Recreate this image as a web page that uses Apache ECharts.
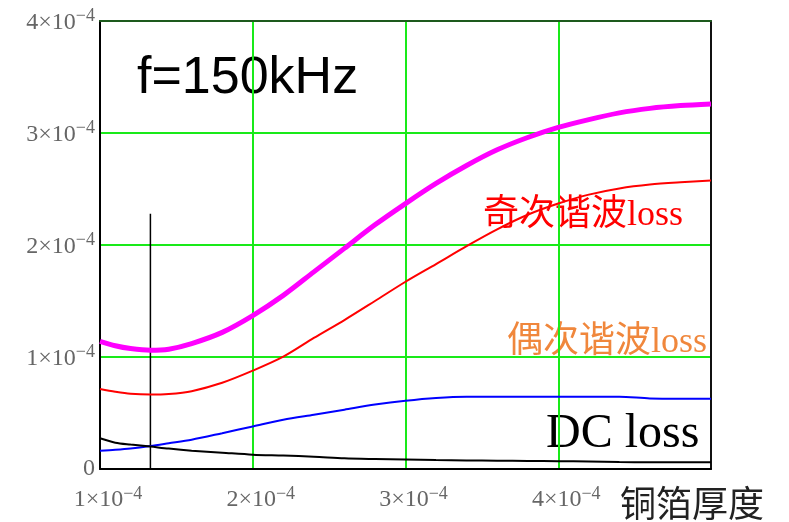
<!DOCTYPE html>
<html>
<head>
<meta charset="utf-8">
<script src="https://cdn.jsdelivr.net/npm/echarts@6/dist/echarts.min.js"></script>
<style>
  html, body { margin: 0; padding: 0; background: #fff; }
  #chart { width: 789px; height: 522px; }
</style>
</head>
<body>
<div id="chart"></div>
<script>
// Copper foil thickness (m)
const thickness = [1.0e-4, 1.1e-4, 1.2e-4, 1.33e-4, 1.45e-4, 1.6e-4, 1.8e-4, 2.0e-4, 2.2e-4, 2.4e-4, 2.6e-4, 2.8e-4,
                   3.0e-4, 3.2e-4, 3.4e-4, 3.6e-4, 3.8e-4, 4.0e-4, 4.2e-4, 4.4e-4, 4.6e-4, 4.8e-4, 5.0e-4];

// Loss components at f = 150 kHz
const totalLoss = [1.14e-4, 1.10e-4, 1.075e-4, 1.06e-4, 1.07e-4, 1.12e-4, 1.22e-4, 1.37e-4, 1.55e-4, 1.76e-4, 1.97e-4, 2.18e-4,
                   2.37e-4, 2.55e-4, 2.71e-4, 2.85e-4, 2.96e-4, 3.05e-4, 3.12e-4, 3.18e-4, 3.22e-4, 3.245e-4, 3.26e-4];
const oddHarmonicLoss = [0.714e-4, 0.69e-4, 0.672e-4, 0.665e-4, 0.67e-4, 0.695e-4, 0.77e-4, 0.878e-4, 1.003e-4, 1.17e-4, 1.33e-4, 1.50e-4,
                         1.672e-4, 1.83e-4, 1.99e-4, 2.14e-4, 2.27e-4, 2.37e-4, 2.45e-4, 2.505e-4, 2.54e-4, 2.56e-4, 2.575e-4];
const evenHarmonicLoss = [0.164e-4, 0.172e-4, 0.183e-4, 0.205e-4, 0.23e-4, 0.262e-4, 0.32e-4, 0.38e-4, 0.44e-4, 0.485e-4, 0.53e-4, 0.575e-4,
                          0.61e-4, 0.635e-4, 0.646e-4, 0.646e-4, 0.646e-4, 0.646e-4, 0.646e-4, 0.646e-4, 0.63e-4, 0.628e-4, 0.628e-4];
const dcLoss = [0.274e-4, 0.235e-4, 0.218e-4, 0.20e-4, 0.182e-4, 0.164e-4, 0.146e-4, 0.128e-4, 0.12e-4, 0.11e-4, 0.095e-4, 0.089e-4,
                0.085e-4, 0.08e-4, 0.076e-4, 0.074e-4, 0.072e-4, 0.07e-4, 0.066e-4, 0.062e-4, 0.06e-4, 0.06e-4, 0.06e-4];

// Cursor marking the optimum thickness
const cursorX = 1.33e-4;
const cursorTop = 2.28e-4;

// Axis ranges and ticks
const xMin = 1e-4, xMax = 5e-4, xStep = 1e-4;
const yMin = 0, yMax = 4e-4, yStep = 1e-4;

const pairs = arr => thickness.map((t, i) => [t, arr[i]]);

const sciLabel = v => {
  const n = Math.round(v * 1e4);
  if (n === 0) return '{z|0}';
  return '{b|' + n + '×10}{s|−4}';
};

const labelRich = {
  b: { fontFamily: 'Liberation Serif', fontSize: 24, color: '#666', lineHeight: 27, verticalAlign: 'bottom' },
  s: { fontFamily: 'Liberation Serif', fontSize: 18, color: '#666', lineHeight: 19, verticalAlign: 'top' },
  z: { fontFamily: 'Liberation Serif', fontSize: 24, color: '#666', lineHeight: 27 }
};

const gridGreen = '#19ea19';

const chart = echarts.init(document.getElementById('chart'), null, { renderer: 'canvas' });

chart.setOption({
  animation: false,
  backgroundColor: '#fff',
  grid: { left: 100, right: 78, top: 21, bottom: 53, containLabel: false },
  xAxis: [{
    type: 'value', min: xMin, max: xMax, interval: xStep,
    axisLine: { show: true, lineStyle: { color: '#000', width: 2 } },
    axisTick: { show: false },
    splitLine: { show: true, lineStyle: { color: gridGreen, width: 2 } },
    axisLabel: {
      margin: 16, showMaxLabel: false,
      padding: [0, 0, 0, 16],
      formatter: v => Math.round(v * 1e4) === 5 ? '' : sciLabel(v),
      rich: labelRich
    }
  }, {
    type: 'value', position: 'top', min: xMin, max: xMax, interval: xStep,
    axisLine: { show: true, onZero: false, lineStyle: { color: '#1d5a1d', width: 2 } },
    axisTick: { show: false }, axisLabel: { show: false }, splitLine: { show: false }
  }],
  yAxis: [{
    type: 'value', min: yMin, max: yMax, interval: yStep,
    axisLine: { show: true, lineStyle: { color: '#000', width: 2 } },
    axisTick: { show: false },
    splitLine: { show: true, lineStyle: { color: gridGreen, width: 2 } },
    axisLabel: { margin: 5, formatter: sciLabel, rich: labelRich }
  }, {
    type: 'value', position: 'right', min: yMin, max: yMax, interval: yStep,
    axisLine: { show: true, onZero: false, lineStyle: { color: '#111', width: 2 } },
    axisTick: { show: false }, axisLabel: { show: false }, splitLine: { show: false }
  }],
  series: [
    { name: '总损耗', type: 'line', data: pairs(totalLoss), showSymbol: false, smooth: 0.3,
      lineStyle: { color: '#ff00ff', width: 5 }, z: 5 },
    { name: '奇次谐波loss', type: 'line', data: pairs(oddHarmonicLoss), showSymbol: false, smooth: 0.3,
      lineStyle: { color: '#ff0000', width: 2 }, z: 4 },
    { name: '偶次谐波loss', type: 'line', data: pairs(evenHarmonicLoss), showSymbol: false, smooth: 0.3,
      lineStyle: { color: '#0000ff', width: 2 }, z: 4 },
    { name: 'DC loss', type: 'line', data: pairs(dcLoss), showSymbol: false, smooth: 0.3,
      lineStyle: { color: '#000', width: 2 }, z: 4 },
    { name: 'cursor', type: 'line', data: [[cursorX, yMin], [cursorX, cursorTop]], showSymbol: false,
      lineStyle: { color: '#000', width: 1.5 }, z: 3 }
  ],
  graphic: [
    { type: 'text', left: 137, top: 53, z: -1,
      style: { text: 'f=150kHz', fontFamily: 'Liberation Sans', fontSize: 52, fill: '#000' } },
    { type: 'text', left: 483, top: 198, z: -1,
      style: { text: '奇次谐波loss', fontFamily: 'Liberation Serif, "Noto Sans CJK SC"', fontSize: 36, fill: '#ff0000' } },
    { type: 'text', left: 507, top: 325, z: -1,
      style: { text: '偶次谐波loss', fontFamily: 'Liberation Serif, "Noto Sans CJK SC"', fontSize: 36, fill: '#f0873c' } },
    { type: 'text', left: 546, top: 410, z: -1,
      style: { text: 'DC loss', fontFamily: 'Liberation Serif', fontSize: 48, fill: '#000' } },
    { type: 'text', left: 620, top: 485, z: -1,
      style: { text: '铜箔厚度', fontFamily: '"Noto Sans CJK SC"', fontSize: 36, fill: '#222' } }
  ]
});
</script>
</body>
</html>
